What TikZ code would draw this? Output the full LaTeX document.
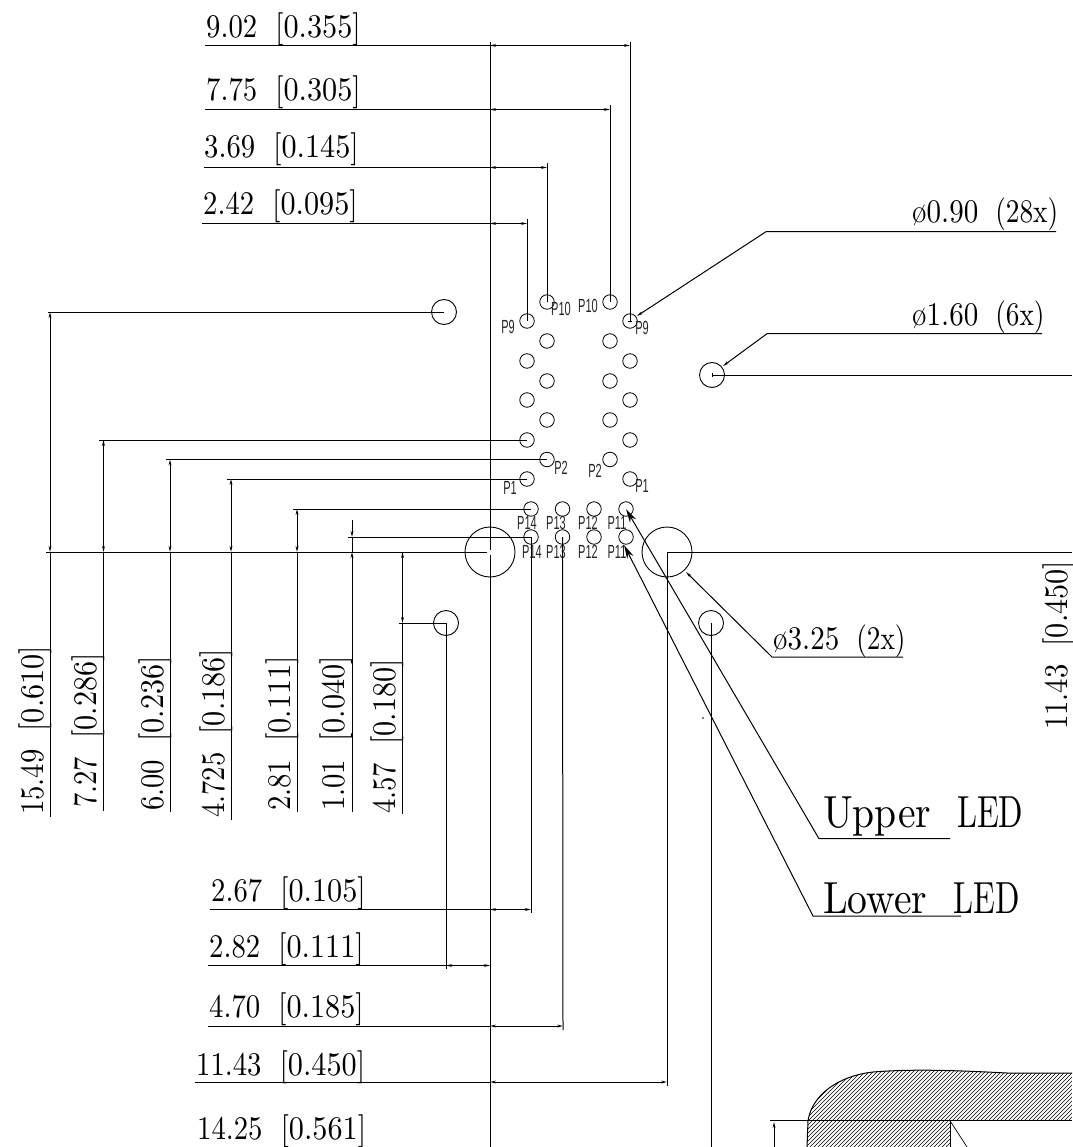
\documentclass[tikz,border=0pt]{standalone}
\usepackage{fontspec}
\usepackage{graphicx}
\usetikzlibrary{arrows.meta}
\newfontfamily\pfont{Liberation Sans}
\newcommand{\tensize}{\fontsize{10}{10}\selectfont}
\newcommand{\dimlab}[2]{\tensize\scalebox{2.87}[3.3]{#1}\hspace{18pt}\scalebox{3.02}[3.3]{#2}}
\newcommand{\diamlab}[2]{\tensize\scalebox{2.9}[3.3]{#1}\hspace{17pt}\scalebox{2.73}[3.3]{#2}}
\newcommand{\ledlab}[2]{\tensize\scalebox{3.96}[4.5]{#1}\hspace{26pt}\scalebox{3.2}[4.5]{#2}}
\newcommand{\pin}[1]{\scalebox{.58}[1]{\pfont\fontsize{19}{19}\selectfont #1}}
\tikzset{
  hole/.style={circle,draw,line width=.8pt,inner sep=0pt,minimum size=14.5pt},
  midhole/.style={circle,draw,line width=.9pt,inner sep=0pt,minimum size=25pt},
  bighole/.style={circle,draw,line width=.9pt,inner sep=0pt,minimum size=50pt},
  lab/.style={anchor=base west,inner sep=0pt},
  rotlab/.style={anchor=base west,inner sep=0pt,rotate=90},
  pinlab/.style={inner sep=0pt,text=black!85},
  ln/.style={line width=1pt,line cap=butt},
  dimarr/.style={ln,{Stealth[length=6pt,width=2.8pt]}-{Stealth[length=6pt,width=2.8pt]}},
  tipend/.style={ln,-{Stealth[length=6pt,width=2.8pt]}},
  ledarr/.style={ln,-{Stealth[length=14pt,width=7pt]}}
}
\begin{document}
\begin{tikzpicture}[x=1pt,y=-1pt]
\useasboundingbox (0,0) rectangle (1072,1147);
% ---------- holes
\node[hole] (a1) at (527,321) {};
\node[hole] (a2) at (527,361) {};
\node[hole] (a3) at (527,400) {};
\node[hole] (a4) at (527,440) {};
\node[hole] (a5) at (527,479) {};
\node[hole] (b1) at (547,302) {};
\node[hole] (b2) at (547,341) {};
\node[hole] (b3) at (547,381) {};
\node[hole] (b4) at (547,420) {};
\node[hole] (b5) at (547,459.5) {};
\node[hole] (c1) at (610,302) {};
\node[hole] (c2) at (610,341) {};
\node[hole] (c3) at (610,381) {};
\node[hole] (c4) at (610,420) {};
\node[hole] (c5) at (610,459.5) {};
\node[hole] (d1) at (630,321) {};
\node[hole] (d2) at (630,361) {};
\node[hole] (d3) at (630,400) {};
\node[hole] (d4) at (630,440) {};
\node[hole] (d5) at (630,479) {};
\node[hole] (r1) at (531,509) {};
\node[hole] (r2) at (562.5,509) {};
\node[hole] (r3) at (594,509) {};
\node[hole] (r4) at (626,509) {};
\node[hole] (s1) at (531,537) {};
\node[hole] (s2) at (562.5,537) {};
\node[hole] (s3) at (594,537) {};
\node[hole] (s4) at (626,537) {};
\node[midhole] (m1) at (444,312) {};
\node[midhole] (m2) at (712,375) {};
\node[midhole] (m3) at (711,623) {};
\node[midhole] (m4) at (446,623) {};
\node[bighole] (g1) at (490,552) {};
\node[bighole] (g2) at (667,552) {};
% ---------- pin labels
\node[pinlab] (p1) at (561,309) {\pin{P10}};
\node[pinlab] (p2) at (588,306) {\pin{P10}};
\node[pinlab] (p3) at (508,327) {\pin{P9}};
\node[pinlab] (p4) at (642,328) {\pin{P9}};
\node[pinlab] (p5) at (561,468) {\pin{P2}};
\node[pinlab] (p6) at (595,471) {\pin{P2}};
\node[pinlab] (p7) at (510,488) {\pin{P1}};
\node[pinlab] (p8) at (642,486) {\pin{P1}};
\node[pinlab] (p9) at (527,523) {\pin{P14}};
\node[pinlab] (p10) at (556,523) {\pin{P13}};
\node[pinlab] (p11) at (588,523) {\pin{P12}};
\node[pinlab] (p12) at (617,523) {\pin{P11}};
\node[pinlab] (p13) at (532,552) {\pin{P14}};
\node[pinlab] (p14) at (556,552) {\pin{P13}};
\node[pinlab] (p15) at (588,552) {\pin{P12}};
\node[pinlab] (p16) at (617,552) {\pin{P11}};
% ---------- datum line
\coordinate (datT) at (490,42);
\coordinate (datM1) at (490,549.5);
\coordinate (datM2) at (490,554.5);
\coordinate (datB) at (490,1147);
\draw[ln] (datT) -- (datM1) (datM2) -- (datB);
\coordinate (hL) at (46,552);
\coordinate (hR) at (487,552);
\draw[ln] (hL) -- (hR);
% ---------- top dimensions
\node[lab] (t1) at (206,37.5) {\dimlab{9.02}{[0.355]}};
\node[lab] (t2) at (206,100.5) {\dimlab{7.75}{[0.305]}};
\node[lab] (t3) at (204,158) {\dimlab{3.69}{[0.145]}};
\node[lab] (t4) at (203,215) {\dimlab{2.42}{[0.095]}};
\coordinate (t1s) at (205,45.5); \coordinate (t1d) at (490,45.5); \coordinate (t1e) at (630,45.5); \coordinate (t1x) at (630,42);
\coordinate (t2s) at (205,109.5); \coordinate (t2d) at (490,109.5); \coordinate (t2e) at (610,109.5); \coordinate (t2x) at (610,105.5);
\coordinate (t3s) at (204,167.5); \coordinate (t3d) at (490,167.5); \coordinate (t3e) at (547,167.5); \coordinate (t3x) at (547,163.5);
\coordinate (t4s) at (202,223.5); \coordinate (t4d) at (490,223.5); \coordinate (t4e) at (527,223.5); \coordinate (t4x) at (527,219.5);
\draw[ln] (t1s) -- (t1d); \draw[dimarr] (t1d) -- (t1e); \draw[ln] (t1x) -- (d1.center);
\draw[ln] (t2s) -- (t2d); \draw[dimarr] (t2d) -- (t2e); \draw[ln] (t2x) -- (c1.center);
\draw[ln] (t3s) -- (t3d); \draw[dimarr] (t3d) -- (t3e); \draw[ln] (t3x) -- (b1.center);
\draw[ln] (t4s) -- (t4d); \draw[dimarr] (t4d) -- (t4e); \draw[ln] (t4x) -- (a1.center);
\coordinate (d1l) at (628,321); \coordinate (d1r) at (632,321);
\draw[line width=.6pt] (d1l) -- (d1r);
\coordinate (m2t) at (712,373); \coordinate (m2b) at (712,377);
\draw[line width=.6pt] (m2t) -- (m2b);
% ---------- left vertical dimensions
\node[rotlab] (l1) at (43,815) {\dimlab{15.49}{[0.610]}};
\node[rotlab] (l2) at (96,808) {\dimlab{7.27}{[0.286]}};
\node[rotlab] (l3) at (163,811) {\dimlab{6.00}{[0.236]}};
\node[rotlab] (l4) at (224,818) {\dimlab{4.725}{[0.186]}};
\node[rotlab] (l5) at (290,811) {\dimlab{2.81}{[0.111]}};
\node[rotlab] (l6) at (344,811) {\dimlab{1.01}{[0.040]}};
\node[rotlab] (l7) at (395,814) {\dimlab{4.57}{[0.180]}};
\coordinate (v1s) at (48,312); \coordinate (v1t) at (50,312); \coordinate (v1m) at (50,552); \coordinate (v1b) at (50,817);
\coordinate (v2s) at (99,440); \coordinate (v2t) at (103.5,440); \coordinate (v2m) at (103.5,552); \coordinate (v2b) at (103.5,811);
\coordinate (v3s) at (166,459.5); \coordinate (v3t) at (170,459.5); \coordinate (v3m) at (170,552); \coordinate (v3b) at (170,812);
\coordinate (v4s) at (227,479); \coordinate (v4t) at (231,479); \coordinate (v4m) at (231,552); \coordinate (v4b) at (231,820);
\coordinate (v5s) at (293,509); \coordinate (v5t) at (297,509); \coordinate (v5m) at (297,552); \coordinate (v5b) at (297,812);
\coordinate (v6s) at (348,537); \coordinate (v6t) at (352,520); \coordinate (v6u) at (352,537); \coordinate (v6m) at (352,552); \coordinate (v6b) at (352,812);
\coordinate (v7s) at (399,623); \coordinate (v7t) at (402.5,552); \coordinate (v7u) at (402.5,623); \coordinate (v7b) at (402.5,814);
\draw[ln] (v1s) -- (m1.center);
\draw[ln] (v2s) -- (a4.center);
\draw[ln] (v3s) -- (b5.center);
\draw[ln] (v4s) -- (a5.center);
\draw[ln] (v5s) -- (r1.center);
\draw[ln] (v6s) -- (s1.center);
\draw[ln] (v7s) -- (m4.center);
\draw[dimarr] (v1t) -- (v1m); \draw[ln] (v1m) -- (v1b);
\draw[dimarr] (v2t) -- (v2m); \draw[ln] (v2m) -- (v2b);
\draw[dimarr] (v3t) -- (v3m); \draw[ln] (v3m) -- (v3b);
\draw[dimarr] (v4t) -- (v4m); \draw[ln] (v4m) -- (v4b);
\draw[dimarr] (v5t) -- (v5m); \draw[ln] (v5m) -- (v5b);
\draw[tipend] (v6t) -- (v6u); \draw[ln] (v6u) -- (v6m); \draw[tipend] (v6b) -- (v6m);
\draw[dimarr] (v7t) -- (v7u); \draw[ln] (v7u) -- (v7b);
% ---------- bottom dimensions
\node[lab] (b1l) at (211,901) {\dimlab{2.67}{[0.105]}};
\node[lab] (b2l) at (209,957) {\dimlab{2.82}{[0.111]}};
\node[lab] (b3l) at (209,1017) {\dimlab{4.70}{[0.185]}};
\node[lab] (b4l) at (196,1075) {\dimlab{11.43}{[0.450]}};
\node[lab] (b5l) at (197,1139) {\dimlab{14.25}{[0.561]}};
\coordinate (h1s) at (210,909.5); \coordinate (h1d) at (490,909.5); \coordinate (h1e) at (531,909.5); \coordinate (h1x) at (531,913);
\coordinate (h2s) at (208,965.5); \coordinate (h2d) at (490,965.5); \coordinate (h2e) at (446,965.5); \coordinate (h2x) at (446,969);
\coordinate (h3s) at (208,1026); \coordinate (h3d) at (490,1026); \coordinate (h3e) at (563,1026); \coordinate (h3x) at (563,1030);
\coordinate (h4s) at (195,1082); \coordinate (h4d) at (490,1082); \coordinate (h4e) at (667,1082); \coordinate (h4x) at (667,1086);
\coordinate (h5x) at (711,1147);
\draw[ln] (h1s) -- (h1d); \draw[dimarr] (h1d) -- (h1e); \draw[ln] (s1.center) -- (h1x);
\draw[ln] (h2s) -- (h2e); \draw[dimarr] (h2e) -- (h2d); \draw[ln] (m4.center) -- (h2x);
\draw[ln] (h3s) -- (h3d); \draw[dimarr] (h3d) -- (h3e); \draw[ln] (s2.center) -- (h3x);
\draw[ln] (h4s) -- (h4d); \draw[dimarr] (h4d) -- (h4e); \draw[ln] (g2.center) -- (h4x);
\draw[ln] (m3.center) -- (h5x);
% ---------- right side
\coordinate (rA) at (1072,552); \coordinate (rB) at (1072,375);
\draw[ln] (g2.center) -- (rA);
\draw[ln] (m2.center) -- (rB);
\node[rotlab] (rl) at (1067,730) {\dimlab{11.43}{[0.450]}};
\node[lab] (q1) at (912,223) {\diamlab{ø0.90}{(28x)}};
\node[lab] (q2) at (912,325) {\diamlab{ø1.60}{(6x)}};
\node[lab] (q3) at (773,649) {\diamlab{ø3.25}{(2x)}};
\coordinate (q1e) at (1056,231.7); \coordinate (q1k) at (766,231.7); \coordinate (q1t) at (637,316);
\coordinate (q2e) at (1042,333.7); \coordinate (q2k) at (767,333.7); \coordinate (q2t) at (723,366);
\coordinate (q3e) at (903,657); \coordinate (q3k) at (772,657); \coordinate (q3t) at (686,572);
\draw[tipend] (q1e) -- (q1k) -- (q1t);
\draw[tipend] (q2e) -- (q2k) -- (q2t);
\draw[tipend] (q3e) -- (q3k) -- (q3t);
\node[lab] (u1) at (823,827) {\ledlab{Upper}{LED}};
\node[lab] (u2) at (823,913) {\ledlab{Lower}{LED}};
\coordinate (u1e) at (950,838.7); \coordinate (u1k) at (819,838.7); \coordinate (u1t) at (626,509);
\coordinate (u2e) at (961,916); \coordinate (u2k) at (813,916); \coordinate (u2t) at (624,545);
\draw[ledarr] (u1e) -- (u1k) -- (u1t);
\draw[ledarr] (u2e) -- (u2k) -- (u2t);
\fill (703,718) circle (.8pt);
% ---------- section at lower right
\begin{scope}
\clip (807,1147) -- (808,1120.7) .. controls (812,1095) and (838,1076) .. (873,1072)
  .. controls (910,1069) and (950,1070) .. (1007,1073) -- (1072,1073) -- (1072,1120.7)
  -- (950,1120.7) -- (950,1147) -- cycle;
\foreach \i in {730,734,...,1080}
  \draw[line width=.65pt] (\i,1147) -- ({\i+90},1057);
\end{scope}
\draw[ln] (807,1147) -- (808,1120.7) .. controls (812,1095) and (838,1076) .. (873,1072)
  .. controls (910,1069) and (950,1070) .. (1007,1073) -- (1072,1073);
\coordinate (secL) at (770,1120.7); \coordinate (secR) at (1072,1120.7);
\coordinate (secC) at (950,1120.7); \coordinate (secV) at (950,1147); \coordinate (secD) at (967,1147);
\draw[ln] (secL) -- (secR);
\draw[ln] (secC) -- (secV);
\draw[line width=.7pt] (secC) -- (secD);
\coordinate (arrB) at (774,1147); \coordinate (arrT) at (774,1122);
\draw[tipend] (arrB) -- (arrT);
\end{tikzpicture}
\end{document}
